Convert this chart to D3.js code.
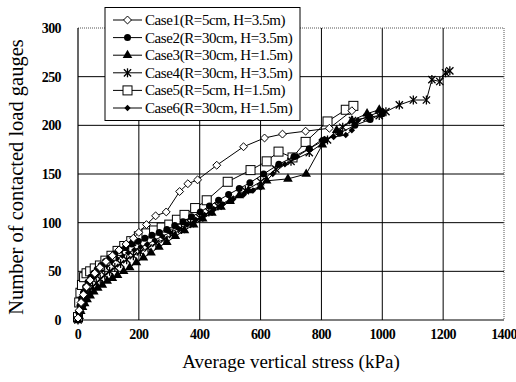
<!DOCTYPE html>
<html>
<head>
<meta charset="utf-8">
<script src="https://cdn.jsdelivr.net/npm/d3@7"></script>
<style>
  body { margin: 0; background: #fff; }
  text { font-family: "Liberation Serif", "Times New Roman", serif; fill: #000; }
</style>
</head>
<body>
<div id="chart"></div>
<script>
// [stress kPa, contacted gauges]
var case1 = [[0,2],[4,10],[10,18],[18,26],[28,34],[40,41],[55,48],[72,54],[92,60],[113,66],[135,72],[158,78],[182,84],[200,90],[225,98],[255,107],[290,111],[334,132],[361,140],[393,144],[456,159],[544,178],[613,187],[672,191],[748,194],[826,197],[900,215]];
var case2 = [[0,0],[3,8],[7,15],[12,22],[18,28],[25,34],[33,39],[42,44],[52,48],[63,52],[76,56],[90,60],[105,64],[121,68],[138,72],[157,75],[177,78],[198,81],[220,84],[243,87],[267,90],[292,93],[318,97],[345,101],[373,106],[402,111],[432,117],[462,123],[495,129],[530,135],[565,141],[610,150],[660,160],[710,168],[760,176],[810,185],[860,192],[910,200],[960,206],[1000,212]];
var case3 = [[0,0],[4,4],[9,9],[15,13],[22,17],[30,21],[40,25],[52,29],[65,33],[80,36],[96,40],[113,43],[130,46],[150,50],[170,54],[192,59],[215,64],[240,69],[266,75],[292,80],[320,86],[350,92],[380,98],[410,104],[440,110],[470,116],[500,122],[530,128],[560,133],[600,137],[620,143],[690,145],[750,150],[803,180],[850,195],[900,205],[950,212],[990,216]];
var case4 = [[0,0],[3,6],[8,12],[14,17],[21,22],[29,26],[38,30],[48,34],[60,38],[73,42],[88,46],[104,50],[121,54],[140,58],[160,62],[182,66],[205,70],[230,74],[256,79],[283,83],[311,88],[340,93],[370,99],[400,105],[430,111],[460,117],[500,124],[550,133],[600,142],[650,155],[700,163],[760,172],[820,185],[870,198],[902,205],[950,208],[990,210],[1012,214],[1056,221],[1102,226],[1145,226],[1163,247],[1189,245],[1208,254],[1222,256]];
var case5 = [[0,3],[4,18],[8,28],[13,36],[20,44],[28,48],[40,50],[55,53],[72,56],[90,61],[110,66],[130,71],[152,76],[175,81],[200,86],[225,89],[250,92],[275,95],[300,98],[325,103],[350,108],[385,115],[423,123],[492,142],[567,154],[620,163],[659,173],[705,167],[748,183],[820,204],[880,216],[905,220]];
var case6 = [[0,0],[3,7],[7,13],[12,19],[18,25],[25,30],[33,35],[43,40],[54,44],[66,48],[80,52],[95,56],[111,60],[128,63],[146,66],[165,69],[185,72],[206,75],[228,78],[252,82],[277,86],[303,90],[330,94],[358,98],[387,103],[416,108],[446,114],[476,119],[510,124],[545,129],[575,133],[600,136],[640,150],[680,160],[720,168],[760,176],[800,185],[840,188],[880,190],[900,195],[920,205],[960,210],[1000,215]];

var caseNames = ["Case1(R=5cm, H=3.5m)", "Case2(R=30cm, H=3.5m)", "Case3(R=30cm, H=1.5m)",
  "Case4(R=30cm, H=3.5m)", "Case5(R=5cm, H=1.5m)", "Case6(R=30cm, H=1.5m)"];
var caseMarkers = ["diamondOpen", "circle", "triangle", "asterisk", "squareOpen", "diamond"];
var allCases = [case1, case2, case3, case4, case5, case6];

var xTicks = [0, 200, 400, 600, 800, 1000, 1200, 1400];
var yTicks = [0, 50, 100, 150, 200, 250, 300];

var width = 516, height = 382;
var pLeft = 78, pRight = 504, pTop = 28, pBottom = 320;

var svg = d3.select("#chart").append("svg")
  .attr("width", width)
  .attr("height", height);

var x = d3.scaleLinear().domain([0, 1400]).range([pLeft, pRight]);
var y = d3.scaleLinear().domain([0, 300]).range([pBottom, pTop]);

// grid
svg.selectAll(".vgrid").data(xTicks.slice(1, -1)).enter().append("line")
  .attr("x1", d => x(d)).attr("x2", d => x(d))
  .attr("y1", pTop).attr("y2", pBottom)
  .attr("stroke", "#000").attr("stroke-width", 1);
svg.selectAll(".hgrid").data(yTicks.slice(1, -1)).enter().append("line")
  .attr("x1", pLeft).attr("x2", pRight)
  .attr("y1", d => y(d)).attr("y2", d => y(d))
  .attr("stroke", "#000").attr("stroke-width", 1);

// frame: dotted top/right, solid left/bottom
svg.append("line").attr("x1", pLeft).attr("x2", pRight).attr("y1", pTop).attr("y2", pTop)
  .attr("stroke", "#555").attr("stroke-dasharray", "1,1");
svg.append("line").attr("x1", pRight).attr("x2", pRight).attr("y1", pTop).attr("y2", pBottom)
  .attr("stroke", "#555").attr("stroke-dasharray", "1,1");
svg.append("line").attr("x1", pLeft).attr("x2", pLeft).attr("y1", pTop).attr("y2", pBottom)
  .attr("stroke", "#000").attr("stroke-width", 1.2);
svg.append("line").attr("x1", pLeft).attr("x2", pRight).attr("y1", pBottom).attr("y2", pBottom)
  .attr("stroke", "#000").attr("stroke-width", 1.2);

// tick labels
svg.selectAll(".xlab").data(xTicks).enter().append("text")
  .attr("x", d => x(d)).attr("y", pBottom + 19)
  .attr("text-anchor", "middle")
  .style("font-size", "14px").style("font-weight", "bold")
  .style("letter-spacing", "-0.6px")
  .text(d => d);
svg.selectAll(".ylab").data(yTicks).enter().append("text")
  .attr("x", pLeft - 17).attr("y", d => y(d) + 5)
  .attr("text-anchor", "end")
  .style("font-size", "14px").style("font-weight", "bold")
  .style("letter-spacing", "-0.6px")
  .text(d => d);

// axis titles
svg.append("text")
  .attr("x", 291).attr("y", 368)
  .attr("text-anchor", "middle")
  .style("font-size", "19px")
  .text("Average vertical stress  (kPa)");
svg.append("text")
  .attr("transform", "translate(23,177) rotate(-90)")
  .attr("text-anchor", "middle")
  .style("font-size", "20.5px")
  .text("Number of contacted load gauges");

function drawMarker(g, type, cx, cy) {
  if (type == "diamondOpen") {
    g.append("path").attr("d", d3.symbol(d3.symbolDiamond2, 40)())
      .attr("transform", "translate(" + cx + "," + cy + ")")
      .attr("fill", "#fff").attr("stroke", "#000").attr("stroke-width", 1);
  } else if (type == "circle") {
    g.append("circle").attr("cx", cx).attr("cy", cy).attr("r", 3.5).attr("fill", "#000");
  } else if (type == "triangle") {
    g.append("path").attr("d", d3.symbol(d3.symbolTriangle, 40)())
      .attr("transform", "translate(" + cx + "," + cy + ")")
      .attr("fill", "#000");
  } else if (type == "asterisk") {
    g.append("path").attr("d", d3.symbol(d3.symbolTimes, 36)())
      .attr("transform", "translate(" + cx + "," + cy + ")")
      .attr("fill", "none").attr("stroke", "#000").attr("stroke-width", 1.3);
    g.append("line").attr("x1", cx).attr("x2", cx).attr("y1", cy - 4.5).attr("y2", cy + 4.5)
      .attr("stroke", "#000").attr("stroke-width", 1.3);
  } else if (type == "squareOpen") {
    g.append("rect").attr("x", cx - 4.5).attr("y", cy - 4.5).attr("width", 9).attr("height", 9)
      .attr("fill", "#fff").attr("stroke", "#000").attr("stroke-width", 1);
  } else {
    g.append("path").attr("d", d3.symbol(d3.symbolDiamond2, 26)())
      .attr("transform", "translate(" + cx + "," + cy + ")")
      .attr("fill", "#000");
  }
}

var line = d3.line().x(d => x(d[0])).y(d => y(d[1]));

// series (drawn in reverse so case 1 ends on top)
for (var i = allCases.length - 1; i >= 0; i--) {
  var g = svg.append("g");
  g.append("path").datum(allCases[i]).attr("d", line)
    .attr("fill", "none").attr("stroke", "#000").attr("stroke-width", 1);
  allCases[i].forEach(function (p) {
    drawMarker(g, caseMarkers[i], x(p[0]), y(p[1]));
  });
}

// legend
var lg = svg.append("g");
lg.append("rect").attr("x", 105).attr("y", 7.5).attr("width", 195).attr("height", 113)
  .attr("fill", "#fff").attr("stroke", "#000").attr("stroke-width", 1);
caseNames.forEach(function (name, i) {
  var ly = 20 + i * 17.6;
  lg.append("line").attr("x1", 113).attr("x2", 142).attr("y1", ly).attr("y2", ly)
    .attr("stroke", "#000").attr("stroke-width", 1);
  drawMarker(lg, caseMarkers[i], 127.5, ly);
  lg.append("text").attr("x", 145).attr("y", ly + 5)
    .style("font-size", "15px").style("letter-spacing", "-0.4px")
    .text(name);
});
</script>
</body>
</html>
